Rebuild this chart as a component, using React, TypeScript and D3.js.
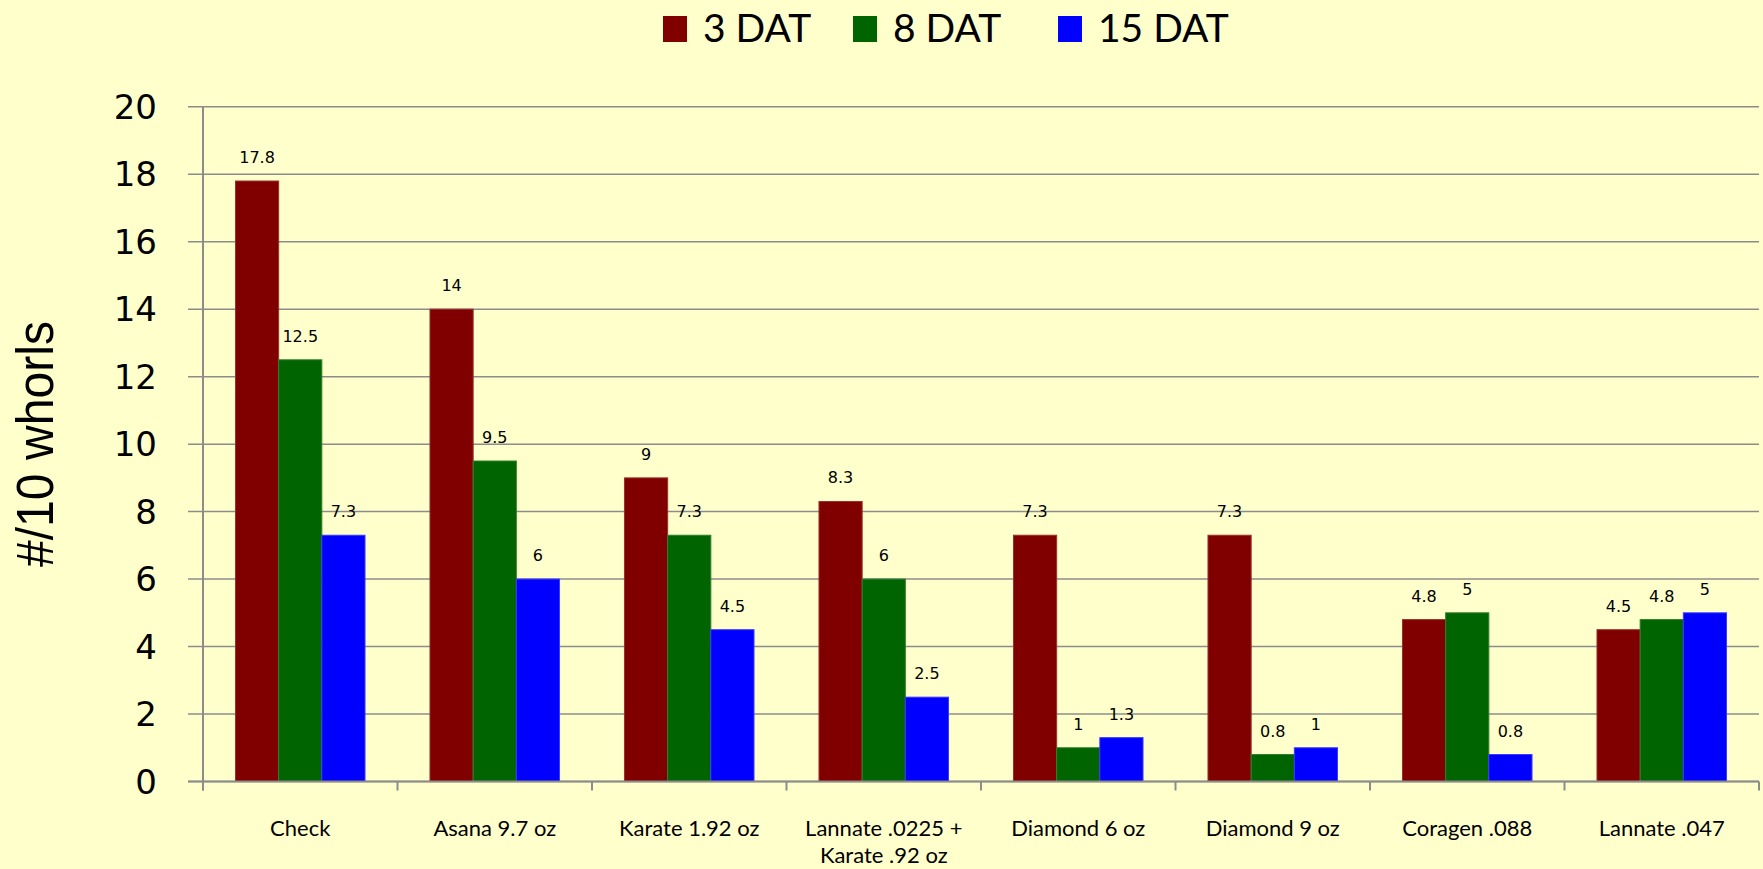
import React, { useRef, useEffect, useCallback } from 'react';
import * as d3 from 'd3';

const categories = [
  ['Check'],
  ['Asana 9.7 oz'],
  ['Karate 1.92 oz'],
  ['Lannate .0225 +', 'Karate .92 oz'],
  ['Diamond 6 oz'],
  ['Diamond 9 oz'],
  ['Coragen .088'],
  ['Lannate .047'],
];
const seriesNames = ['3 DAT', '8 DAT', '15 DAT'];
const dat3 = [17.8, 14, 9, 8.3, 7.3, 7.3, 4.8, 4.5];
const dat8 = [12.5, 9.5, 7.3, 6, 1, 0.8, 5, 4.8];
const dat15 = [7.3, 6, 4.5, 2.5, 1.3, 1, 0.8, 5];
const yTicks = [0, 2, 4, 6, 8, 10, 12, 14, 16, 18, 20];

const colors = ['#800000', '#006400', '#0000ff'];
const strokes = ['#9a3030', '#2f7f2f', '#3a3aff'];

const W = 1763;
const H = 869;

const App = () => {
  const svgRef = useRef(null);

  const drawChart = useCallback((node) => {
    const svg = d3.select(node);
    svg.selectAll('*').remove();

    svg.append('rect').attr('width', W).attr('height', H).attr('fill', '#ffffcc');

    const left = 203, right = 1759, top = 106.8, bottom = 781.5;
    const y = d3.scaleLinear().domain([0, 20]).range([bottom, top]);
    const x0 = d3.scaleBand().domain(categories.map((c, i) => String(i))).range([left, right]).padding(0);
    const pad = x0.bandwidth() * 0.167;
    const x1 = d3.scaleBand().domain(seriesNames).range([pad, x0.bandwidth() - pad]).padding(0);
    const values = [dat3, dat8, dat15];

    // grid lines + y ticks
    svg.append('g')
      .selectAll('line')
      .data(yTicks)
      .join('line')
      .attr('x1', left - 15)
      .attr('x2', right)
      .attr('y1', d => y(d))
      .attr('y2', d => y(d))
      .attr('stroke', '#8c8c8c')
      .attr('stroke-width', 1.5);

    svg.append('g')
      .selectAll('text')
      .data(yTicks)
      .join('text')
      .attr('x', 157)
      .attr('y', d => y(d) + 12)
      .attr('text-anchor', 'end')
      .style('font-family', '"DejaVu Sans", Verdana, sans-serif')
      .style('font-size', '34px')
      .attr('fill', '#000')
      .text(d => d);

    // bars
    const groups = svg.append('g')
      .selectAll('g')
      .data(categories.map((c, i) => i))
      .join('g')
      .attr('transform', i => `translate(${x0(String(i))},0)`);

    groups.selectAll('rect')
      .data(i => seriesNames.map((s, k) => ({ s, k, v: values[k][i] })))
      .join('rect')
      .attr('x', d => x1(d.s))
      .attr('y', d => y(d.v))
      .attr('width', x1.bandwidth())
      .attr('height', d => y(0) - y(d.v))
      .attr('fill', d => colors[d.k])
      .attr('stroke', d => strokes[d.k])
      .attr('stroke-width', 1);

    groups.selectAll('text')
      .data(i => seriesNames.map((s, k) => ({ s, k, v: values[k][i] })))
      .join('text')
      .attr('x', d => x1(d.s) + x1.bandwidth() / 2)
      .attr('y', d => y(d.v) - 18)
      .attr('text-anchor', 'middle')
      .style('font-family', '"DejaVu Sans", Verdana, sans-serif')
      .style('font-size', '16px')
      .attr('fill', '#000')
      .text(d => d.v);

    // axes lines
    svg.append('line')
      .attr('x1', left).attr('x2', left)
      .attr('y1', top).attr('y2', bottom + 9)
      .attr('stroke', '#8c8c8c').attr('stroke-width', 2);
    svg.append('line')
      .attr('x1', left - 15).attr('x2', right)
      .attr('y1', bottom).attr('y2', bottom)
      .attr('stroke', '#8c8c8c').attr('stroke-width', 2);
    svg.append('g')
      .selectAll('line')
      .data(categories.map((c, i) => i).concat([categories.length]))
      .join('line')
      .attr('x1', i => left + i * x0.bandwidth())
      .attr('x2', i => left + i * x0.bandwidth())
      .attr('y1', bottom)
      .attr('y2', bottom + 9)
      .attr('stroke', '#8c8c8c')
      .attr('stroke-width', 2);

    // category labels
    const catText = svg.append('g')
      .selectAll('text')
      .data(categories.map((c, i) => i))
      .join('text')
      .attr('x', i => x0(String(i)) + x0.bandwidth() / 2)
      .attr('y', 836)
      .attr('text-anchor', 'middle')
      .style('font-family', 'Lato, "Open Sans", sans-serif')
      .style('font-size', '22px')
      .attr('fill', '#000');
    catText.selectAll('tspan')
      .data(i => categories[i].map((t, j) => ({ t, j, i })))
      .join('tspan')
      .attr('x', d => x0(String(d.i)) + x0.bandwidth() / 2)
      .attr('dy', d => (d.j === 0 ? 0 : 27))
      .text(d => d.t);

    // y title
    svg.append('text')
      .attr('transform', 'translate(53,444) rotate(-90)')
      .attr('text-anchor', 'middle')
      .attr('textLength', 246)
      .attr('lengthAdjust', 'spacingAndGlyphs')
      .style('font-family', '"Liberation Sans Narrow", "Arial Narrow", sans-serif')
      .style('font-size', '52px')
      .attr('fill', '#000')
      .text('#/10 whorls');

    // legend
    const legendX = [663, 853, 1058];
    const legend = svg.append('g')
      .selectAll('g')
      .data(seriesNames)
      .join('g')
      .attr('transform', (d, k) => `translate(${legendX[k]},0)`);
    legend.append('rect')
      .attr('x', 0).attr('y', 16)
      .attr('width', 24).attr('height', 26)
      .attr('fill', (d, k) => colors[k]);
    legend.append('text')
      .attr('x', 40)
      .attr('y', 42)
      .style('font-family', 'Lato, "Open Sans", sans-serif')
      .style('font-size', '39px')
      .attr('fill', '#000')
      .text(d => d);
  }, []);

  useEffect(() => {
    if (svgRef.current) {
      drawChart(svgRef.current);
    }
  }, [svgRef, drawChart]);

  return (
    <svg
      ref={svgRef}
      width={W}
      height={H}
      style={{ position: 'absolute', left: 0, top: 0, display: 'block' }}
    />
  );
};

export default App;
